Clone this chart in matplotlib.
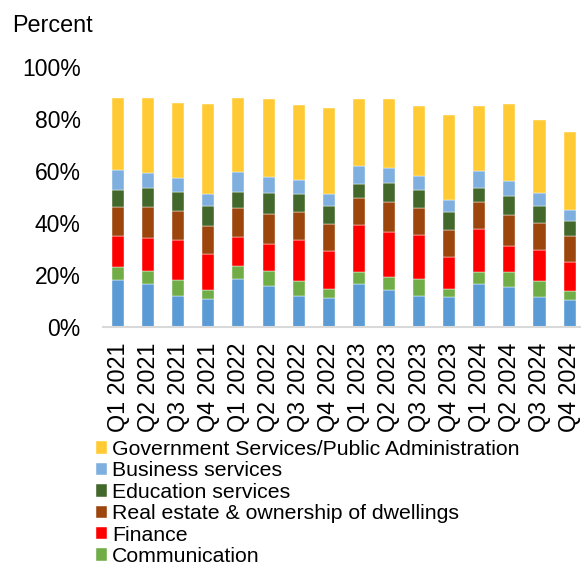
import numpy as np
import matplotlib
matplotlib.use("Agg")
import matplotlib.pyplot as plt

plt.rcParams['font.family'] = ['Liberation Sans', 'DejaVu Sans']

# quarters on the x axis
quarters = ['Q1 2021', 'Q2 2021', 'Q3 2021', 'Q4 2021',
            'Q1 2022', 'Q2 2022', 'Q3 2022', 'Q4 2022',
            'Q1 2023', 'Q2 2023', 'Q3 2023', 'Q4 2023',
            'Q1 2024', 'Q2 2024', 'Q3 2024', 'Q4 2024']

# shares in percent, stacked from the bottom up
base_sector = [18.2, 16.7, 11.9, 10.8, 18.5, 15.9, 11.9, 11.3,
               16.7, 14.4, 12.1, 11.4, 16.7, 15.4, 11.5, 10.5]
communication = [4.7, 5.0, 6.3, 3.4, 4.8, 5.5, 5.9, 3.2,
                 4.5, 4.7, 6.2, 3.2, 4.3, 5.9, 6.1, 3.2]
finance = [12.2, 12.7, 15.4, 14.0, 11.3, 10.7, 15.8, 14.7,
           17.9, 17.6, 17.2, 12.5, 16.8, 10.0, 11.9, 11.4]
real_estate = [11.2, 11.9, 11.1, 10.8, 11.2, 11.5, 10.8, 10.5,
               10.4, 11.5, 10.4, 10.3, 10.4, 11.9, 10.6, 9.8]
education = [6.3, 7.3, 7.2, 7.4, 6.0, 7.9, 6.8, 6.8,
             5.5, 7.1, 6.8, 6.8, 5.3, 7.3, 6.4, 6.0]
business = [7.8, 5.6, 5.4, 4.8, 7.7, 6.2, 5.3, 4.8,
            6.9, 5.9, 5.4, 4.6, 6.6, 5.7, 5.0, 4.1]
government = [27.7, 28.9, 28.7, 34.4, 28.6, 30.1, 28.8, 32.8,
              25.7, 26.6, 27.0, 32.7, 25.0, 29.4, 28.0, 29.9]

series = [
    (base_sector, '#5B9BD5', None),
    (communication, '#70AD47', 'Communication'),
    (finance, '#FF0000', 'Finance'),
    (real_estate, '#9C450C', 'Real estate & ownership of dwellings'),
    (education, '#43682B', 'Education services'),
    (business, '#7EAFDE', 'Business services'),
    (government, '#FFCA33', 'Government Services/Public Administration'),
]

fig = plt.figure(figsize=(5.81, 5.69), dpi=100)
ax = fig.add_axes([0.1773, 0.4253, 0.829, 0.457])

X = np.arange(len(quarters))
bottom = np.zeros(len(quarters))
handles = []
for vals, col, name in series:
    b = ax.bar(X, vals, width=0.4, bottom=bottom, color=col,
               edgecolor='#FFFFFF', linewidth=0.3)
    bottom = bottom + np.array(vals)
    if name:
        handles.append((b, name))

ax.set_xlim(-0.5, 15.5)
ax.set_ylim(0, 100)
ax.set_yticks(np.arange(0, 101, 20))
ax.set_yticklabels(['%d%%' % v for v in range(0, 101, 20)])
ax.set_xticks(X)
ax.set_xticklabels(quarters, rotation=90)
ax.tick_params(axis='y', length=0, pad=16, labelsize=16.5)
ax.tick_params(axis='x', length=0, pad=11, labelsize=16.8)
for s in ['top', 'right', 'left']:
    ax.spines[s].set_visible(False)
ax.spines['bottom'].set_color('#D9D9D9')
ax.spines['bottom'].set_linewidth(1.5)

fig.text(12 / 581, 1 - 25 / 569, 'Percent', fontsize=16.8, va='center', ha='left')

handles = handles[::-1]
fig.legend([h for h, n in handles], [n for h, n in handles],
           loc='upper left', bbox_to_anchor=(96 / 581, 1 - 440 / 569),
           frameon=False, fontsize=15.3, borderpad=0, borderaxespad=0,
           labelspacing=0.115, handlelength=0.52, handleheight=0.52,
           handletextpad=0.25)

fig.savefig('out.png', dpi=100)
